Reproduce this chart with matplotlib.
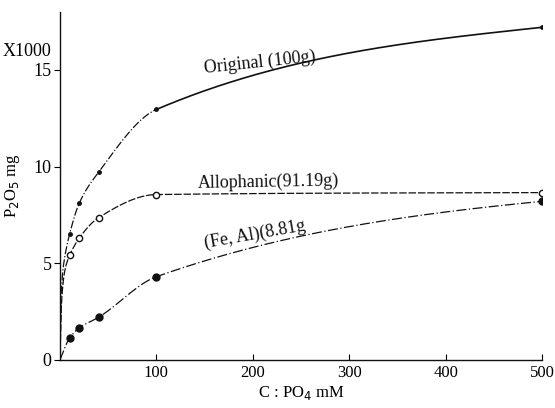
import matplotlib.pyplot as plt
import numpy as np

plt.rcParams['font.family'] = ['Liberation Serif', 'DejaVu Serif']

# concentration (mM)
conc = [10, 20, 40, 100, 500]

# P2O5 retained, mg x1000
original = [6.5, 8.1, 9.7, 12.95, 17.2]
allophanic = [5.4, 6.3, 7.35, 8.55, 8.65]
fe_al = [1.13, 1.65, 2.2, 4.3, 8.2]

# steep start of the curves near the origin
orig_start_x = [0, 1, 3, 6]
orig_start_y = [0, 3.0, 4.6, 5.6]
allo_start_x = [0, 1.5, 4, 7]
allo_start_y = [0, 2.8, 4.3, 5.0]

xticks = [100, 200, 300, 400, 500]
yticks = [0, 5, 10, 15]


def smooth(x, y, n=400):
    # monotone cubic so the hand-drawn curves look smooth
    x = np.asarray(x, float)
    y = np.asarray(y, float)
    h = np.diff(x)
    d = np.diff(y) / h
    m = np.zeros_like(y)
    m[0] = d[0]
    m[-1] = 0.5 * d[-1]
    for i in range(1, len(x) - 1):
        if d[i - 1] * d[i] > 0:
            w1 = 2 * h[i] + h[i - 1]
            w2 = h[i] + 2 * h[i - 1]
            m[i] = (w1 + w2) / (w1 / d[i - 1] + w2 / d[i])
    xs = np.linspace(x[0], x[-1], n)
    xs = np.unique(np.concatenate([xs, x]))
    idx = np.clip(np.searchsorted(x, xs) - 1, 0, len(x) - 2)
    t = (xs - x[idx]) / h[idx]
    h00 = 2 * t**3 - 3 * t**2 + 1
    h10 = t**3 - 2 * t**2 + t
    h01 = -2 * t**3 + 3 * t**2
    h11 = t**3 - t**2
    ys = h00 * y[idx] + h10 * h[idx] * m[idx] + h01 * y[idx + 1] + h11 * h[idx] * m[idx + 1]
    return xs, ys


fig = plt.figure(figsize=(5.55, 4.08), dpi=100)
ax = fig.add_axes([0.108, 0.118, 0.869, 0.853])

lc = '#111111'

# Original
sx, sy = smooth(orig_start_x + conc, orig_start_y + original)
ax.plot(sx[sx <= 100], sy[sx <= 100], color=lc, lw=0.9, ls='-.')
ax.plot(sx[sx >= 100], sy[sx >= 100], color=lc, lw=1.2, ls='-')
ax.plot(conc, original, ls='none', marker='o', ms=2.5, color=lc)

# Allophanic
sx, sy = smooth(allo_start_x + conc, allo_start_y + allophanic)
ax.plot(sx, sy, color=lc, lw=0.9, ls=(0, (6, 1.5)))
ax.plot(conc, allophanic, ls='none', marker='o', ms=4.5, mfc='white', mec=lc, mew=1.0)

# Fe, Al
sx, sy = smooth([0] + conc, [0] + fe_al)
ax.plot(sx, sy, color=lc, lw=0.9, ls=(0, (8, 2, 1, 2)))
ax.plot(conc, fe_al, ls='none', marker='o', ms=5, color=lc)

ax.text(207, 15.4, 'Original (100g)', fontsize=13, rotation=6, ha='center', va='center', color=lc)
ax.text(216, 9.2, 'Allophanic(91.19g)', fontsize=13, rotation=1, ha='center', va='center', color=lc)
ax.text(202, 6.5, '(Fe, Al)(8.81g', fontsize=13, rotation=10, ha='center', va='center', color=lc)

ax.set_xlim(0, 500)
ax.set_ylim(0, 18)
ax.set_xticks(xticks)
ax.set_yticks(yticks)
ax.tick_params(axis='x', direction='in', length=4, labelsize=12, pad=4)
ax.tick_params(axis='y', direction='out', length=4, labelsize=13, pad=2)
for s in ['top', 'right']:
    ax.spines[s].set_visible(False)
for s in ['left', 'bottom']:
    ax.spines[s].set_linewidth(1.0)
    ax.spines[s].set_color(lc)

ax.set_xlabel('C : PO$_4$ mM', fontsize=12, labelpad=2)
ax.set_ylabel('P$_2$O$_5$ mg', fontsize=12, labelpad=8)
fig.text(0.005, 0.875, 'X1000', fontsize=13, ha='left', va='center')

fig.savefig('out.png', dpi=100)
